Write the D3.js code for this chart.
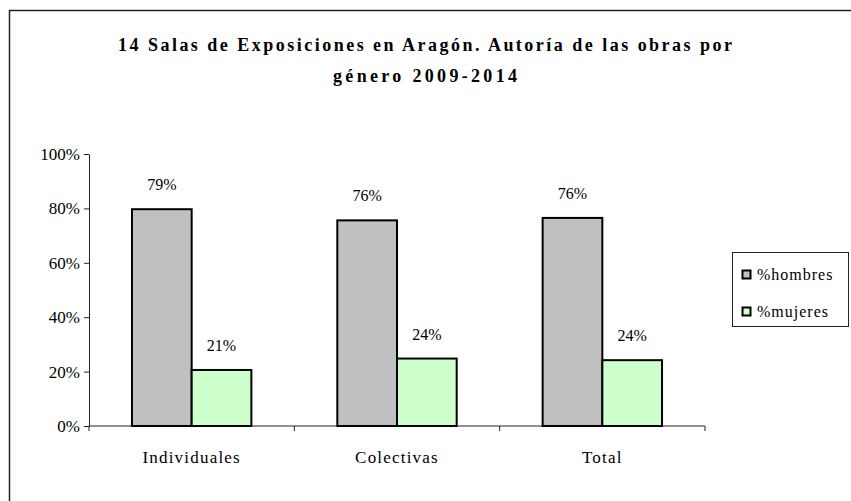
<!DOCTYPE html>
<html><head><meta charset="utf-8">
<script src="https://cdn.jsdelivr.net/npm/d3@7"></script>
<style>body{margin:0;background:#fff}svg{display:block}
svg text{font-family:"Liberation Serif","Times New Roman",Times,"DejaVu Serif",serif !important;fill:#000}</style>
</head><body>
<svg id="c" width="851" height="501"></svg>
<script>
const categories = ["Individuales", "Colectivas", "Total"];
const seriesNames = ["%hombres", "%mujeres"];
const hombres = [0.797, 0.756, 0.765];
const mujeres = [0.206, 0.248, 0.242];
const hombresLabels = ["79%", "76%", "76%"];
const mujeresLabels = ["21%", "24%", "24%"];
const yTicks = [0, 0.2, 0.4, 0.6, 0.8, 1.0];
const titleLines = ["14 Salas de Exposiciones en Aragón. Autoría de las obras por", "género 2009-2014"];

const titleWidths = [614, 184];
const colors = {"%hombres": "#c0c0c0", "%mujeres": "#ccffcc"};
const svg = d3.select("#c");

svg.append("rect").attr("x", 9.5).attr("y", 10.5).attr("width", 1000).attr("height", 700)
  .attr("fill", "#fff").attr("stroke", "#222").attr("stroke-width", 1.5);

const x0 = 89, x1 = 705, yB = 426, yT = 154;
const x = d3.scaleBand().domain(categories).range([x0, x1]).paddingInner(0).paddingOuter(0);
const xs = d3.scaleBand().domain(seriesNames).range([0, x.bandwidth()]).paddingInner(0).paddingOuter(0.72);
const y = d3.scaleLinear().domain([0, 1]).range([yB, yT]);

// title
svg.append("g").selectAll("text").data(titleLines).join("text")
  .attr("x", 425).attr("y", (d, i) => 51 + i * 31)
  .attr("text-anchor", "middle").attr("font-weight", "bold").attr("font-size", 18)
  .attr("textLength", (d, i) => titleWidths[i]).attr("lengthAdjust", "spacing")
  .text(d => d);

// y axis
const yAxis = svg.append("g").attr("transform", `translate(${x0},0)`)
  .call(d3.axisLeft(y).tickValues(yTicks).tickFormat(d3.format(".0%")).tickSize(5).tickSizeOuter(0).tickPadding(4));
yAxis.select(".domain").attr("stroke", "#222");
yAxis.selectAll(".tick line").attr("stroke", "#222");
yAxis.selectAll(".tick text").attr("font-size", 17).attr("dy", "0.32em");

// x axis
const xAxis = svg.append("g").attr("transform", `translate(0,${yB})`);
xAxis.append("line").attr("x1", x0).attr("x2", x1).attr("stroke", "#222");
xAxis.selectAll("line.t").data(categories.map(c => x(c)).concat([x1])).join("line").attr("class", "t")
  .attr("x1", d => d).attr("x2", d => d).attr("y1", 0).attr("y2", 5).attr("stroke", "#222");
xAxis.selectAll("text").data(categories).join("text")
  .attr("x", d => x(d) + x.bandwidth() / 2).attr("y", 37)
  .attr("text-anchor", "middle").attr("font-size", 17).attr("letter-spacing", 1.2)
  .text(d => d);

// bars
const rows = categories.map((c, i) => ({c, vals: [
  {s: "%hombres", v: hombres[i], l: hombresLabels[i]},
  {s: "%mujeres", v: mujeres[i], l: mujeresLabels[i]}]}));
const g = svg.append("g").selectAll("g").data(rows).join("g")
  .attr("transform", d => `translate(${x(d.c)},0)`);
g.selectAll("rect").data(d => d.vals).join("rect")
  .attr("x", d => xs(d.s)).attr("width", xs.bandwidth())
  .attr("y", d => y(d.v)).attr("height", d => yB - y(d.v))
  .attr("fill", d => colors[d.s]).attr("stroke", "#000").attr("stroke-width", 2);
g.selectAll("text").data(d => d.vals).join("text")
  .attr("x", d => xs(d.s) + xs.bandwidth() / 2).attr("y", d => y(d.v) - 19)
  .attr("text-anchor", "middle").attr("font-size", 16)
  .text(d => d.l);

// legend
const lg = svg.append("g");
lg.append("rect").attr("x", 732.5).attr("y", 252.5).attr("width", 116).attr("height", 74)
  .attr("fill", "#fff").attr("stroke", "#222").attr("stroke-width", 1);
const li = lg.selectAll("g").data(seriesNames).join("g")
  .attr("transform", (d, i) => `translate(742,${270 + i * 37})`);
li.append("rect").attr("width", 8).attr("height", 8).attr("x", 0.5).attr("y", 0.5)
  .attr("fill", d => colors[d]).attr("stroke", "#000").attr("stroke-width", 2);
li.append("text").attr("x", 15).attr("y", 10).attr("font-size", 16)
  .attr("letter-spacing", 1).text(d => d);
</script>
</body></html>
